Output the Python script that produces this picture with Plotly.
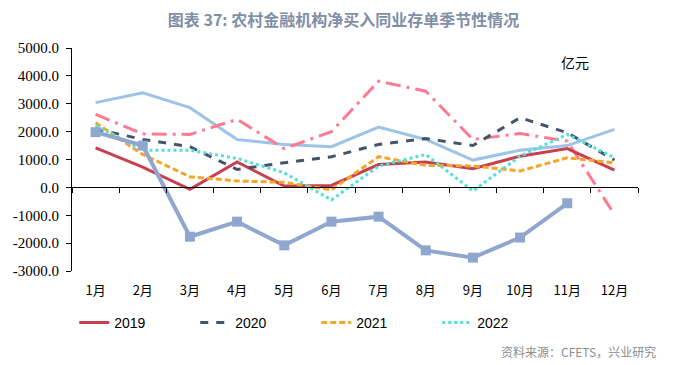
import plotly.graph_objects as go

months = ["1月", "2月", "3月", "4月", "5月", "6月", "7月", "8月", "9月", "10月", "11月", "12月"]
x_idx = list(range(1, 13))

s2019 = [1420, 730, -70, 910, 50, 70, 820, 910, 670, 1120, 1390, 620]
s2020 = [2100, 1720, 1460, 645, 885, 1100, 1540, 1750, 1500, 2500, 1960, 980]
s2021 = [2320, 1180, 380, 230, 180, -90, 1100, 790, 770, 590, 1060, 880]
s2022 = [2220, 1330, 1330, 1040, 525, -450, 760, 1180, -130, 1120, 1900, 1060]
s2023 = [2620, 1920, 1900, 2440, 1390, 2000, 3810, 3450, 1720, 1930, 1660, -970]
s2024 = [3040, 3390, 2860, 1720, 1540, 1460, 2160, 1720, 980, 1330, 1500, 2080]
s2025 = [1980, 1500, -1770, -1230, -2080, -1230, -1050, -2260, -2520, -1800, -570, None]

y_ticks = [-3000, -2000, -1000, 0, 1000, 2000, 3000, 4000, 5000]
y_text = [f"{v:.1f}" for v in y_ticks]

fig = go.Figure()

fig.add_trace(go.Scatter(x=x_idx, y=s2024, mode="lines", name="2024", showlegend=False,
                         line=dict(color="#9DC3E6", width=3)))
fig.add_trace(go.Scatter(x=x_idx, y=s2023, mode="lines", name="2023", showlegend=False,
                         line=dict(color="#FF7A90", width=3, dash="longdashdot")))
fig.add_trace(go.Scatter(x=x_idx, y=s2019, mode="lines", name="2019",
                         line=dict(color="#C8404F", width=3)))
fig.add_trace(go.Scatter(x=x_idx, y=s2020, mode="lines", name="2020",
                         line=dict(color="#44546A", width=3, dash="8px,8px")))
fig.add_trace(go.Scatter(x=x_idx, y=s2021, mode="lines", name="2021",
                         line=dict(color="#F5A52A", width=3, dash="6px,3px")))
fig.add_trace(go.Scatter(x=x_idx, y=s2022, mode="lines", name="2022",
                         line=dict(color="#4FE0D8", width=3, dash="dot")))
fig.add_trace(go.Scatter(x=x_idx, y=s2025, mode="lines+markers", name="2025", showlegend=False,
                         line=dict(color="#8FA7CF", width=4),
                         marker=dict(symbol="square", size=10, color="#8FA7CF")))
# invisible trace to carry the zero-line category axis
fig.add_trace(go.Scatter(x=[0.5, 12.5], y=[0, 0], xaxis="x2", mode="lines",
                         line=dict(width=0), showlegend=False, hoverinfo="skip"))

fig.update_layout(
    width=671, height=357,
    margin=dict(l=64, r=41, t=40, b=94, autoexpand=False),
    paper_bgcolor="white", plot_bgcolor="white",
    font=dict(family="Noto Sans CJK SC", color="black"),
    title=dict(text="<b>图表 37: 农村金融机构净买入同业存单季节性情况</b>",
               x=0.5, xanchor="center", y=0.964, yanchor="middle",
               font=dict(size=16, color="#7F8FA6", family="Noto Sans CJK SC")),
    xaxis=dict(range=[0.5, 12.5], tickmode="array", tickvals=x_idx, ticktext=months,
               showline=False, ticks="", showgrid=False, zeroline=False,
               tickfont=dict(size=13, family="Noto Sans CJK SC"), ticklabelstandoff=10),
    xaxis2=dict(range=[0.5, 12.5], overlaying="x", anchor="free", position=0.375,
                tickmode="array", tickvals=[i + 0.5 for i in range(0, 13)],
                showticklabels=False, showline=True, linecolor="black", linewidth=1,
                ticks="outside", ticklen=5, tickcolor="black", showgrid=False, zeroline=False),
    yaxis=dict(range=[-3000, 5000], tickmode="array", tickvals=y_ticks, ticktext=y_text,
               showline=True, linecolor="black", linewidth=1, ticks="outside", ticklen=5,
               tickcolor="black", showgrid=False, zeroline=False, ticklabelstandoff=4,
               tickfont=dict(size=15, family="Liberation Serif")),
    legend=dict(orientation="h", x=0.004, xanchor="left", y=-0.233, yanchor="middle",
                entrywidth=76, font=dict(size=14, family="Liberation Sans")),
    annotations=[
        dict(text="亿元", xref="paper", yref="paper", x=0.889, xanchor="center",
             y=0.937, yanchor="middle", showarrow=False,
             font=dict(size=14, family="Noto Sans CJK SC")),
        dict(text="资料来源：CFETS，兴业研究", xref="paper", yref="paper",
             x=1.035, xanchor="right", y=-0.363, yanchor="middle", showarrow=False,
             font=dict(size=12, color="#8C8C8C", family="Noto Sans CJK SC")),
    ],
)

fig.write_html("out.html")
